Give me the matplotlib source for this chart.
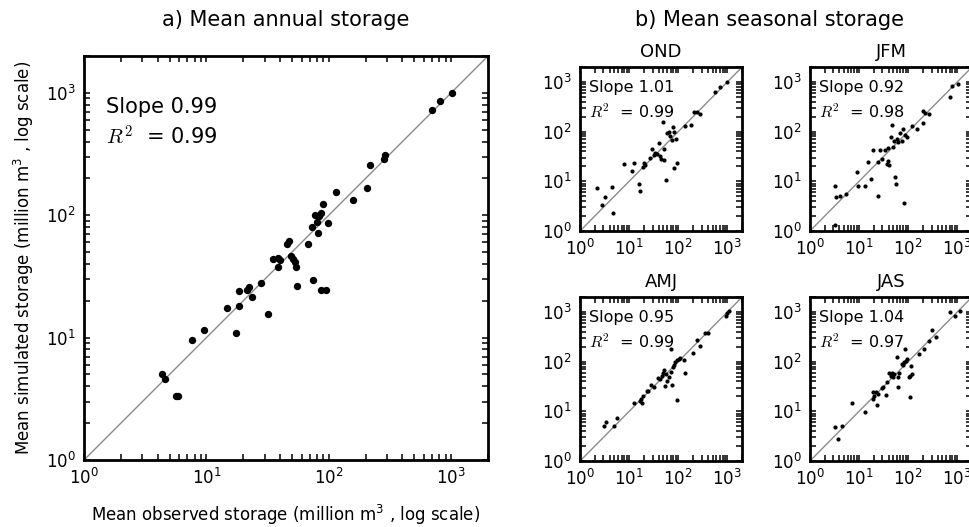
import numpy as np
import matplotlib
matplotlib.use("Agg")
import matplotlib.pyplot as plt
from matplotlib.ticker import LogLocator, NullFormatter

# --- DATA: observed vs simulated mean storage (million m3) ---
annual_obs = [4.32, 4.62, 5.64, 5.82, 7.65, 9.58, 14.8, 17.3, 18.4, 18.6, 21.5, 22.5,
              23.6, 28.1, 31.8, 34.9, 38.4, 38.8, 40.1, 45.4, 47.7, 48.9, 50.8, 53.0,
              54.0, 55.4, 68.0, 73.3, 74.6, 77.0, 79.4, 81.9, 83.5, 86.1, 87.2, 90.0,
              94.6, 98.8, 115, 157, 206, 218, 285, 288, 693, 804, 1012]
annual_sim = [5.05, 4.62, 3.36, 3.34, 9.63, 11.6, 17.4, 10.9, 18.3, 24.1, 24.5, 26.1,
              21.6, 27.8, 15.5, 44.2, 45.1, 38.0, 43.1, 57.9, 61.7, 46.5, 43.7, 41.3,
              37.6, 26.6, 57.9, 80.8, 29.6, 100.7, 88.8, 72.1, 98.8, 105, 24.5, 124,
              24.5, 87.1, 155, 133, 166, 255, 287, 311, 726, 860, 1006]
annual_slope, annual_r2 = 0.99, 0.99

seasons = ["OND", "JFM", "AMJ", "JAS"]
season_slope = [1.01, 0.92, 0.95, 1.04]
season_r2 = [0.99, 0.98, 0.99, 0.97]

ond_obs = [2.19, 2.81, 3.29, 4.50, 4.79, 7.9, 11.3, 12.6, 16.0, 16.3, 19.0, 20.2,
           21.2, 26.8, 29.9, 31.4, 34.0, 36.7, 39.7, 42.9, 45.0, 48.7, 50.2, 51.8,
           55.1, 58.7, 65.5, 68.7, 74.3, 77.8, 80.3, 82.8, 91.0, 94.0, 135, 181,
           206, 240, 281, 569, 698, 985]
ond_sim = [7.43, 3.29, 4.87, 7.78, 2.29, 21.9, 15.8, 23.7, 8.83, 6.35, 19.6, 23.7,
           21.2, 29.9, 44.3, 33.4, 37.3, 35.0, 58.7, 32.4, 27.7, 155, 44.3, 26.8,
           10.5, 92.5, 96.9, 82.8, 68.7, 123, 96.9, 18.7, 70.8, 23.7, 129, 137,
           248, 248, 229, 635, 778, 985]

jfm_obs = [3.29, 3.24, 3.39, 4.09, 5.43, 9.25, 9.69, 13.3, 17.3, 19.6, 15.5, 24.0,
           24.8, 26.8, 29.0, 34.0, 36.7, 38.5, 41.6, 39.7, 44.3, 46.4, 48.7, 51.8,
           54.3, 56.9, 58.7, 63.5, 68.7, 74.3, 80.3, 82.8, 86.8, 94.0, 119, 150,
           199, 206, 222, 272, 720, 803, 1016]
jfm_sim = [8.16, 1.31, 4.79, 5.18, 5.51, 15.5, 7.9, 7.9, 11.3, 42.9, 24.4, 5.18,
           24.4, 42.9, 27.7, 42.9, 22.6, 25.6, 20.9, 46.4, 76.6, 137, 50.2, 65.5,
           12.1, 8.96, 70.8, 62.5, 94.0, 65.5, 113, 3.61, 85.5, 76.6, 132, 113,
           148, 256, 240, 229, 502, 842, 910]

amj_obs = [3.14, 3.39, 4.94, 5.78, 12.6, 16.8, 17.6, 18.1, 19.6, 22.9, 24.8, 28.1,
           31.4, 37.9, 41.6, 46.4, 48.7, 51.8, 54.3, 56.0, 58.7, 63.5, 70.8, 70.8,
           74.3, 77.8, 82.8, 86.8, 94.0, 94.0, 102, 110, 132, 139, 199, 240, 272,
           356, 397, 939, 985, 1099]
amj_sim = [5.02, 6.15, 5.02, 7.20, 15.0, 16.3, 18.1, 14.6, 20.6, 26.0, 26.0, 34.0,
           30.4, 46.4, 45.0, 51.0, 58.7, 66.6, 31.9, 56.9, 40.3, 48.7, 179, 63.5,
           34.0, 77.8, 86.8, 98.4, 106, 17.0, 115, 119, 106, 59.7, 150, 272, 209,
           373, 373, 816, 954, 1065]

jas_obs = [3.29, 3.79, 4.50, 7.31, 13.3, 19.0, 19.6, 20.6, 22.2, 22.9, 24.8, 29.0,
           31.4, 35.6, 36.7, 41.0, 44.3, 46.4, 48.7, 51.8, 58.7, 61.5, 63.5, 66.6,
           74.3, 80.3, 84.2, 86.8, 91.0, 96.9, 102, 110, 113, 119, 110, 163, 215,
           268, 304, 367, 720, 910, 1152]
jas_sim = [4.79, 2.77, 5.02, 14.6, 9.84, 18.1, 24.0, 20.6, 24.8, 13.5, 22.9, 29.0,
           31.4, 21.6, 39.7, 58.7, 52.6, 58.7, 48.7, 56.9, 124, 48.7, 30.4, 59.7,
           91.0, 86.8, 98.4, 179, 102, 112, 48.7, 52.6, 81.6, 56.9, 19.9, 146, 184,
           264, 436, 319, 985, 842, 1065]

season_obs = [ond_obs, jfm_obs, amj_obs, jas_obs]
season_sim = [ond_sim, jfm_sim, amj_sim, jas_sim]

LIM = (1, 2000)

plt.rcParams.update({
    "font.family": "DejaVu Sans",
    "axes.linewidth": 2.0,
    "xtick.direction": "in",
    "ytick.direction": "in",
    "xtick.top": True,
    "ytick.right": True,
    "xtick.major.size": 4,
    "ytick.major.size": 4,
    "xtick.minor.size": 4,
    "ytick.minor.size": 4,
    "xtick.major.width": 1.1,
    "ytick.major.width": 1.1,
    "xtick.minor.width": 1.1,
    "ytick.minor.width": 1.1,
    "xtick.major.pad": 6,
    "ytick.major.pad": 6,
})


def style_axes(ax, obs, sim, slope, r2, dot, text_fs, r2_y):
    ax.plot(LIM, LIM, color="0.55", lw=1.0, zorder=1)
    ax.scatter(obs, sim, s=dot, c="black", linewidths=0, zorder=2)
    ax.set_xscale("log")
    ax.set_yscale("log")
    for axis in (ax.xaxis, ax.yaxis):
        axis.set_major_locator(LogLocator(base=10, numticks=20))
        axis.set_minor_locator(LogLocator(base=10, subs=np.arange(2, 10), numticks=20))
        axis.set_minor_formatter(NullFormatter())
    ax.set_xlim(LIM)
    ax.set_ylim(LIM)
    ax.tick_params(which="both", labelsize=12)
    ax.text(0.055, 0.875, f"Slope {slope:.2f}", transform=ax.transAxes,
            fontsize=text_fs, va="center", ha="left")
    ax.text(0.055, r2_y, f"$R^2$  = {r2:.2f}", transform=ax.transAxes,
            fontsize=text_fs, va="center", ha="left", math_fontfamily="cm")


fig = plt.figure(figsize=(9.7, 5.27), dpi=100)

# a) annual panel
ax_main = fig.add_axes([0.0866, 0.1271, 0.4165, 0.7666])
style_axes(ax_main, annual_obs, annual_sim, annual_slope, annual_r2,
           dot=28, text_fs=15, r2_y=0.80)
ax_main.set_xlabel("Mean observed storage (million m$^3$ , log scale)", fontsize=12)
ax_main.set_ylabel("Mean simulated storage (million m$^3$ , log scale)", fontsize=12)
ax_main.xaxis.set_label_coords(0.5, -0.105)
ax_main.yaxis.set_label_coords(-0.119, 0.5)

# b) seasonal panels, 2x2 (right column runs off the canvas edge)
lefts = [0.598, 0.835, 0.598, 0.835]
bottoms = [0.5617, 0.5617, 0.1252, 0.1252]
for i, name in enumerate(seasons):
    ax = fig.add_axes([lefts[i], bottoms[i], 0.167, 0.311])
    style_axes(ax, season_obs[i], season_sim[i], season_slope[i], season_r2[i],
               dot=9, text_fs=11.5, r2_y=0.73)
    ax.set_title(name, fontsize=13, pad=7)

fig.text(286 / 970, 1 - 20 / 527, "a) Mean annual storage", fontsize=15,
         ha="center", va="center")
fig.text(770 / 970, 1 - 20 / 527, "b) Mean seasonal storage", fontsize=15,
         ha="center", va="center")

fig.savefig("out.png", dpi=100, facecolor="white")
